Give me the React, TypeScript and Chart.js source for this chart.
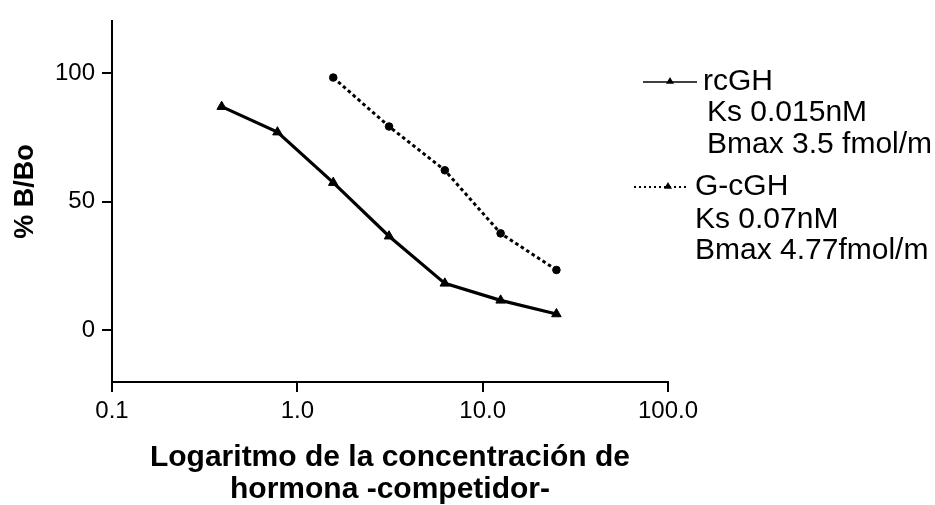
import React, { useEffect, useRef } from "react";
import { Chart, registerables } from "chart.js";

Chart.register(...registerables);

// ---- data ----
const rcGHConcentrations = [0.390625, 0.78125, 1.5625, 3.125, 6.25, 12.5, 25];
const rcGHValues = [86.9, 77.0, 57.4, 36.6, 18.3, 11.7, 6.4];
const gcGHConcentrations = [1.5625, 3.125, 6.25, 12.5, 25];
const gcGHValues = [98.2, 79.2, 62.2, 37.7, 23.5];

const xTickValues = [0.1, 1, 10, 100];
const xTickLabels = ["0.1", "1.0", "10.0", "100.0"];
const yTickValues = [0, 50, 100];
const yTickLabels = ["0", "50", "100"];

const seriesNames = ["rcGH", "G-cGH"];
const ksLabels = ["Ks 0.015nM", "Ks 0.07nM"];
const bmaxLabels = ["Bmax 3.5 fmol/m", "Bmax 4.77fmol/m"];
const yAxisTitle = "% B/Bo";
const xAxisTitle = ["Logaritmo de la concentración de", "hormona -competidor-"];

const FONT = "'Liberation Sans', Arial, Helvetica, sans-serif";

function drawTriangle(ctx: CanvasRenderingContext2D, x: number, y: number, r: number) {
  ctx.beginPath();
  ctx.moveTo(x, y - r);
  ctx.lineTo(x + r, y + r * 0.7);
  ctx.lineTo(x - r, y + r * 0.7);
  ctx.closePath();
  ctx.fill();
}

const textPlugin = {
  id: "textPlugin",
  afterDraw(chart: any) {
    const ctx: CanvasRenderingContext2D = chart.ctx;
    const area = chart.chartArea;
    ctx.save();
    ctx.fillStyle = "#000";
    ctx.strokeStyle = "#000";

    // y-axis title
    ctx.save();
    ctx.translate(area.left - 86, area.top + 170);
    ctx.rotate(-Math.PI / 2);
    ctx.font = `bold 27px ${FONT}`;
    ctx.textAlign = "center";
    ctx.textBaseline = "middle";
    ctx.fillText(yAxisTitle, 0, 0);
    ctx.restore();

    // x-axis title
    ctx.font = `bold 30px ${FONT}`;
    ctx.textAlign = "center";
    ctx.textBaseline = "middle";
    const cx = (area.left + area.right) / 2;
    xAxisTitle.forEach((line, i) => {
      ctx.fillText(line, cx, area.bottom + 76 + i * 32);
    });

    // legend
    const blocks = [
      { lx0: 643, lx1: 697, mx: 670, ly: 82, tx: 703, sx: 707, ys: [82, 113, 145], dash: [] as number[] },
      { lx0: 634, lx1: 686, mx: 668, ly: 187, tx: 695, sx: 695, ys: [187, 220, 251], dash: [2, 3] },
    ];
    blocks.forEach((b, i) => {
      ctx.save();
      ctx.lineWidth = i === 0 ? 1.6 : 2;
      ctx.setLineDash(b.dash);
      ctx.beginPath();
      ctx.moveTo(b.lx0, b.ly);
      ctx.lineTo(b.lx1, b.ly);
      ctx.stroke();
      ctx.restore();
      drawTriangle(ctx, b.mx, b.ly - 1, 4);
      ctx.font = `30px ${FONT}`;
      ctx.textAlign = "left";
      ctx.textBaseline = "middle";
      ctx.fillText(seriesNames[i], b.tx, b.ys[0]);
      ctx.fillText(ksLabels[i], b.sx, b.ys[1]);
      ctx.fillText(bmaxLabels[i], b.sx, b.ys[2]);
    });
    ctx.restore();
  },
};

export default function App() {
  const canvasRef = useRef<HTMLCanvasElement | null>(null);

  useEffect(() => {
    document.body.style.margin = "0";
    const canvas = canvasRef.current;
    if (!canvas) return;

    const chart = new Chart(canvas, {
      type: "scatter",
      data: {
        datasets: [
          {
            label: seriesNames[0],
            data: rcGHConcentrations.map((x, i) => ({ x, y: rcGHValues[i] })),
            showLine: true,
            borderColor: "#000",
            backgroundColor: "#000",
            borderWidth: 3.2,
            pointStyle: "triangle",
            pointRadius: 5.5,
            pointBorderWidth: 1,
            tension: 0,
          },
          {
            label: seriesNames[1],
            data: gcGHConcentrations.map((x, i) => ({ x, y: gcGHValues[i] })),
            showLine: true,
            borderColor: "#000",
            backgroundColor: "#000",
            borderWidth: 3,
            borderDash: [3.5, 3],
            pointStyle: "circle",
            pointRadius: 3.8,
            pointBorderWidth: 1,
            tension: 0,
          },
        ],
      },
      options: {
        responsive: false,
        animation: false,
        events: [],
        layout: { padding: { top: 15, right: 267, bottom: 0, left: 0 } },
        plugins: {
          legend: { display: false },
          tooltip: { enabled: false },
          title: { display: false },
        },
        scales: {
          x: {
            type: "logarithmic",
            min: 0.1,
            max: 100,
            afterBuildTicks: (scale: any) => {
              scale.ticks = xTickValues.map((v) => ({ value: v }));
            },
            afterFit: (scale: any) => {
              scale.height = 123;
            },
            ticks: {
              autoSkip: false,
              maxRotation: 0,
              padding: 5,
              color: "#000",
              font: { family: FONT, size: 24 },
              callback: (_v: any, idx: number) => xTickLabels[idx],
            },
            grid: {
              drawOnChartArea: false,
              drawTicks: true,
              tickLength: 10,
              color: "#000",
              lineWidth: 2,
            },
            border: { display: true, color: "#000", width: 2 },
          },
          y: {
            type: "linear",
            min: -20,
            max: 120,
            afterBuildTicks: (scale: any) => {
              scale.ticks = yTickValues.map((v) => ({ value: v }));
            },
            afterFit: (scale: any) => {
              scale.width = 112;
            },
            ticks: {
              autoSkip: false,
              padding: 7,
              color: "#000",
              font: { family: FONT, size: 24 },
              callback: (_v: any, idx: number) => yTickLabels[idx],
            },
            grid: {
              drawOnChartArea: false,
              drawTicks: true,
              tickLength: 10,
              color: "#000",
              lineWidth: 2,
            },
            border: { display: true, color: "#000", width: 2 },
          },
        },
      },
      plugins: [textPlugin],
    } as any);

    return () => {
      chart.destroy();
    };
  }, []);

  return (
    <div style={{ width: 935, height: 505, background: "#fff" }}>
      <canvas ref={canvasRef} width={935} height={505} style={{ display: "block" }} />
    </div>
  );
}
